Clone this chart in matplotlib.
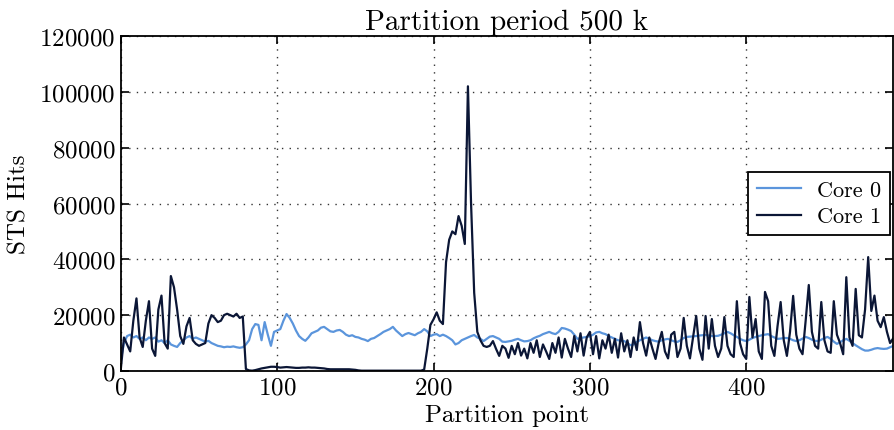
import matplotlib
matplotlib.use("Agg")
import matplotlib.pyplot as plt
import numpy as np

# STS hits per partition point (thousands), sampled every 2 partition points
core0_khits = [
    4, 10, 12.5, 13, 12, 12.5, 11.5, 12, 11, 12,
    11.5, 12, 10.5, 11, 10, 11, 9.5, 9, 8.6, 10,
    11, 12, 12.5, 11.5, 12, 11.5, 11, 10.5, 10.8, 10,
    9.5, 9, 8.8, 8.5, 8.7, 8.6, 8.8, 8.5, 8.3, 8.5,
    9.5, 11, 15, 16.8, 16.5, 11, 17.5, 13, 9, 14,
    14.5, 15, 18, 20.4, 19, 17, 14.5, 12.5, 11.5, 10.8,
    12, 13.5, 14, 14.5, 15.5, 15.8, 15, 14.2, 14, 14.5,
    14.7, 14, 13, 12.5, 12.8, 12.2, 12, 11.5, 11.2, 10.7,
    11.5, 11.8, 12.5, 13.2, 14, 14.5, 15, 15.8, 14.5, 13.5,
    12.5, 13.2, 13.6, 13.2, 12.8, 13.5, 14, 15, 14.2, 12.5,
    13, 13.2, 12.5, 13, 12.5, 11.8, 11, 9.5, 10, 11,
    11.5, 12, 12.5, 12.9, 12, 11.5, 10.7, 11.5, 12.3, 12.5,
    12, 11.5, 10.5, 10.4, 10.6, 10.8, 11.2, 11.5, 11, 10.6,
    10.7, 11, 11.7, 12.2, 12.6, 13.2, 13.6, 14, 13.5, 13.2,
    14, 15.4, 15.2, 14.8, 14.3, 13, 11.5, 11.8, 12, 12.2,
    12.4, 13, 13.8, 14, 13.5, 13.2, 12.5, 12, 11.5, 11,
    10.8, 10.7, 10, 9.2, 9.5, 10.4, 11, 11.5, 12, 11.5,
    11, 10.7, 10.5, 11, 11.3, 11.5, 11, 10.6, 10.4, 11,
    11.8, 12.2, 12.3, 12.4, 12.5, 12.7, 12.8, 12.9, 12.7, 12.5,
    12.5, 12.6, 13, 13.5, 14, 13.5, 12.8, 12.2, 11.5, 11,
    10.7, 11.2, 11.8, 12.2, 12.5, 12.8, 13, 13.2, 12.5, 12,
    11.5, 11.6, 11.8, 11.8, 11.5, 11, 10.7, 11, 11.6, 12.2,
    11.8, 11.2, 10.8, 10.7, 11.2, 11.8, 12.2, 11.5, 10.5, 9.7,
    10.3, 11, 11.5, 10.8, 10, 9.2, 8.5, 7.8, 7.3, 7.3,
    7.6, 8, 8.2, 8, 7.9, 8, 8.5, 9,
]

core1_khits = [
    0.7, 12, 9.5, 7, 18, 26, 12, 8.6, 18, 25,
    8, 5.4, 22, 27, 10, 8, 34, 30, 22, 12.5,
    9.7, 16, 19, 11, 9.7, 9, 9.5, 10, 17, 20,
    19, 17.5, 18, 20, 20.5, 20, 19.5, 20.5, 19, 19.5,
    0.7, 0.2, 0.1, 0.3, 0.6, 0.9, 1.1, 1.3, 1.5, 1.5,
    1.4, 1.2, 1.3, 1.4, 1.3, 1.2, 1.1, 1.1, 1.2, 1.2,
    1.3, 1.2, 1.2, 1.1, 1.0, 0.9, 0.7, 0.6, 0.6, 0.6,
    0.6, 0.6, 0.6, 0.6, 0.5, 0.4, 0.2, 0.1, 0.1, 0.1,
    0.1, 0.1, 0.1, 0.1, 0.1, 0.1, 0.1, 0.1, 0.1, 0.1,
    0.1, 0.1, 0.1, 0.1, 0.1, 0.1, 0.1, 0.5, 8, 16.5,
    18.5, 21, 18, 16.8, 39, 47, 50, 49, 55.5, 52,
    45.5, 102, 60, 28, 14, 11, 9, 8.6, 9, 10.7,
    7.9, 5.4, 9, 8, 4.7, 9, 6, 10, 5.5, 8,
    4.5, 10, 6.5, 11, 5, 9.5, 7, 4.3, 10, 6.5,
    12, 4.8, 11.5, 8, 5, 12.5, 7, 13.5, 5.5, 12,
    14, 6, 12.5, 4.5, 11, 8, 13, 6.5, 11.5, 4.8,
    13.5, 7, 11, 5, 12, 7.5, 17.5, 10, 5.5, 12,
    8, 4.3, 10, 14, 7, 4.5, 13, 14, 5, 8,
    19, 9, 4.5, 12, 19.7, 8, 4, 19.7, 8, 18.6,
    9, 5, 8, 19.3, 9, 6, 5, 25, 10, 6,
    4.3, 26.5, 12, 18.6, 7, 4.3, 28.3, 25, 9, 5.4,
    16, 24.7, 11, 5.4, 14, 26.9, 13, 8, 6, 18,
    30.8, 14, 9, 8, 24.7, 11, 7, 6.5, 25, 13,
    10, 6, 33.6, 12, 9, 29.4, 12.8, 12, 22, 40.8,
    21.5, 27, 18, 15.7, 19.3, 14, 10, 11.7,
]

series_names = ["Core 0", "Core 1"]
series_colors = ["#5b95dc", "#0b1636"]

partition = np.arange(len(core0_khits)) * 2
core0 = np.array(core0_khits) * 1000
core1 = np.array(core1_khits) * 1000

plt.rcParams["font.family"] = "serif"
plt.rcParams["font.serif"] = ["cmr10", "DejaVu Serif"]
plt.rcParams["mathtext.fontset"] = "cm"
plt.rcParams["axes.formatter.use_mathtext"] = True

fig = plt.figure(figsize=(8.95, 4.31), dpi=100)
ax = fig.add_axes([0.135, 0.137, 0.863, 0.777])

ax.plot(partition, core0, color=series_colors[0], lw=1.6, label=series_names[0])
ax.plot(partition, core1, color=series_colors[1], lw=1.6, label=series_names[1])

ax.set_xlim(0, 494)
ax.set_ylim(0, 120000)
ax.set_xticks([0, 100, 200, 300, 400])
ax.set_yticks(np.arange(0, 120001, 20000))
ax.grid(True, color="k", linestyle=(0, (1, 4.5)), linewidth=1.0, alpha=0.8)

ax.tick_params(direction="in", top=True, right=True, length=6, width=1.2,
               labelsize=18, pad=4)
for side in ax.spines.values():
    side.set_linewidth(1.3)

ax.set_title("Partition period 500 k", fontsize=21, pad=5)
ax.set_xlabel("Partition point", fontsize=18, labelpad=4)
ax.set_ylabel("STS Hits", fontsize=18, labelpad=6)

leg = ax.legend(loc="center right", fontsize=16, fancybox=False, framealpha=1,
                edgecolor="k", borderaxespad=0.15, handlelength=2.0,
                borderpad=0.4, labelspacing=0.3, handletextpad=0.7)
leg.get_frame().set_linewidth(1.3)

fig.savefig("out.png", dpi=100)
